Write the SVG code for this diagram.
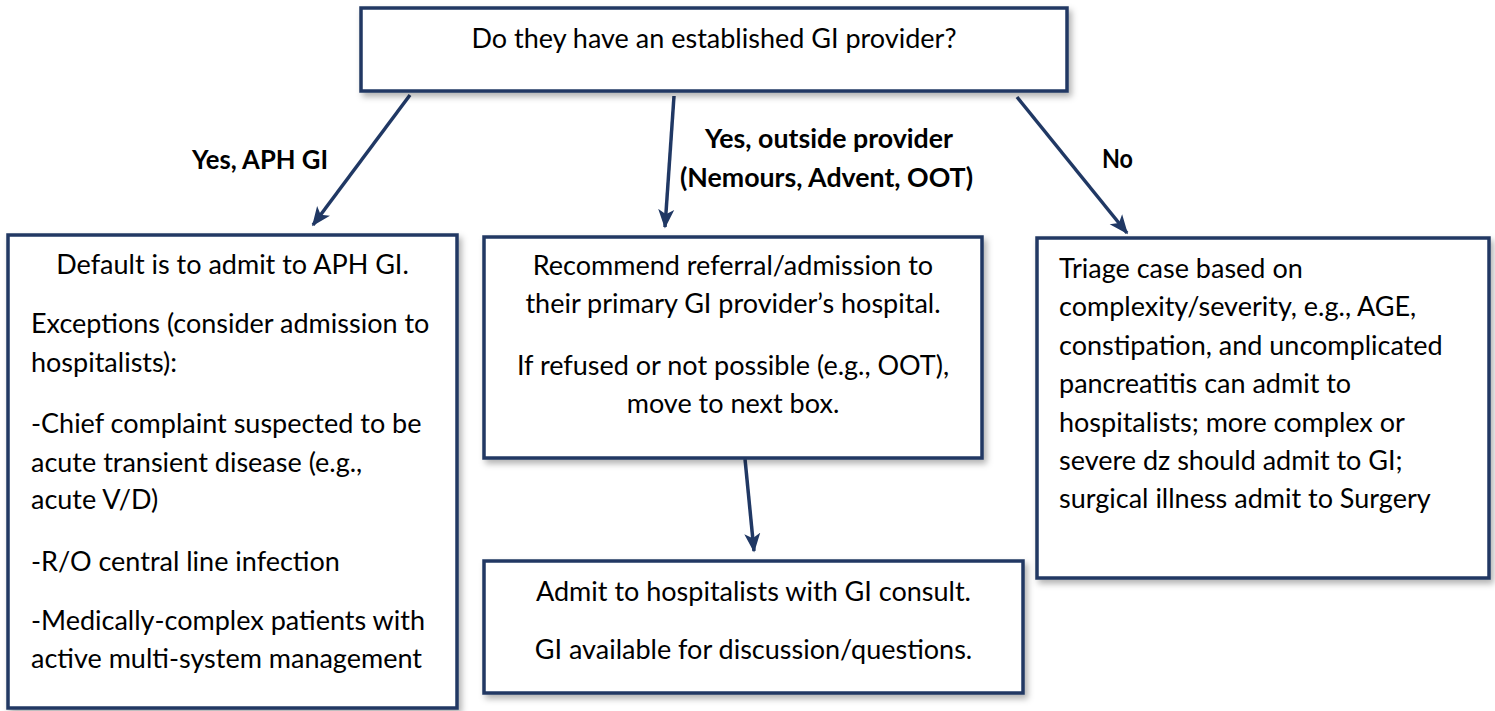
<svg xmlns="http://www.w3.org/2000/svg" width="1495" height="711" viewBox="0 0 1495 711">
<defs>
<filter id="sh" x="-5%" y="-5%" width="112%" height="120%">
<feDropShadow dx="3" dy="4" stdDeviation="3" flood-color="#000" flood-opacity="0.3"/>
</filter>
<marker id="ah" viewBox="0 0 12 12" refX="11" refY="6" markerWidth="5.5" markerHeight="5.5" markerUnits="strokeWidth" orient="auto">
<path d="M0,1 L12,6 L0,11 L3,6 Z" fill="#203864"/>
</marker>
</defs>
<style>
.box{fill:#fff;stroke:#203864;stroke-width:3.5;filter:url(#sh)}
.t{font-family:Lato,"Open Sans","Liberation Sans",sans-serif;font-size:27px;fill:#000}
.c{text-anchor:middle}
.lbl{font-family:Lato,"Open Sans","Liberation Sans",sans-serif;font-size:26.5px;font-weight:bold;fill:#000}
.con{stroke:#203864;stroke-width:3.5;fill:none;marker-end:url(#ah)}
</style>
<rect width="1495" height="711" fill="#fff"/>
<g id="connectors">
<line class="con" x1="410" y1="95" x2="313" y2="225"/>
<line class="con" x1="674" y1="96" x2="665" y2="227"/>
<line class="con" x1="1017" y1="97" x2="1127" y2="233"/>
<line class="con" x1="745" y1="459" x2="754" y2="551"/>
</g>
<g id="labels">
<text class="lbl" x="192" y="169" textLength="136" lengthAdjust="spacingAndGlyphs">Yes, APH GI</text>
<text class="lbl" x="705" y="148" textLength="248" lengthAdjust="spacingAndGlyphs">Yes, outside provider</text>
<text class="lbl" x="680" y="187" textLength="293" lengthAdjust="spacingAndGlyphs">(Nemours, Advent, OOT)</text>
<text class="lbl" x="1102" y="168" textLength="31" lengthAdjust="spacingAndGlyphs">No</text>
</g>
<g id="question">
<rect class="box" x="361" y="8" width="706" height="83"/>
<text class="t c" x="714" y="48">Do they have an established GI provider?</text>
</g>
<g id="aph-gi">
<rect class="box" x="8" y="235" width="449" height="473"/>
<text class="t c" x="232.5" y="274">Default is to admit to APH GI.</text>
<text class="t" x="31" y="333">Exceptions (consider admission to</text>
<text class="t" x="31" y="372">hospitalists):</text>
<text class="t" x="31" y="433">-Chief complaint suspected to be</text>
<text class="t" x="31" y="472">acute transient disease (e.g.,</text>
<text class="t" x="31" y="509">acute V/D)</text>
<text class="t" x="31" y="571">-R/O central line infection</text>
<text class="t" x="31" y="630">-Medically-complex patients with</text>
<text class="t" x="31" y="668">active multi-system management</text>
</g>
<g id="outside">
<rect class="box" x="484" y="237" width="498" height="221"/>
<text class="t c" x="733" y="275">Recommend referral/admission to</text>
<text class="t c" x="733" y="313">their primary GI provider’s hospital.</text>
<text class="t c" x="733" y="375">If refused or not possible (e.g., OOT),</text>
<text class="t c" x="733" y="413">move to next box.</text>
</g>
<g id="no">
<rect class="box" x="1037" y="238" width="452" height="340"/>
<text class="t" x="1059" y="278">Triage case based on</text>
<text class="t" x="1059" y="316">complexity/severity, e.g., AGE,</text>
<text class="t" x="1059" y="355">constipation, and uncomplicated</text>
<text class="t" x="1059" y="393">pancreatitis can admit to</text>
<text class="t" x="1059" y="432">hospitalists; more complex or</text>
<text class="t" x="1059" y="470">severe dz should admit to GI;</text>
<text class="t" x="1059" y="508">surgical illness admit to Surgery</text>
</g>
<g id="consult">
<rect class="box" x="484" y="561" width="539" height="132"/>
<text class="t c" x="753.5" y="601">Admit to hospitalists with GI consult.</text>
<text class="t c" x="753.5" y="659">GI available for discussion/questions.</text>
</g>
</svg>
